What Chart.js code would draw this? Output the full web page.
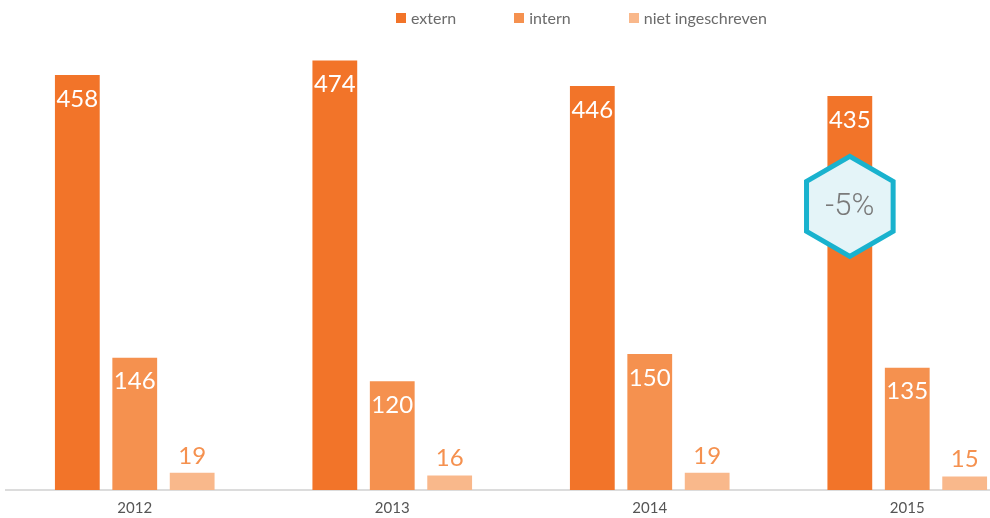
<!DOCTYPE html>
<html>
<head>
<meta charset="utf-8">
<script src="https://cdn.jsdelivr.net/npm/chart.js@4/dist/chart.umd.min.js"></script>
<style>
  html, body { margin: 0; padding: 0; background: #fff; overflow: hidden; }
  #wrap { position: relative; width: 1044px; height: 518px; }
  #legend { position: absolute; top: 8px; left: 396px; display: flex; font-family: Lato, sans-serif; font-size: 16px; color: #6b6b6b; }
  #legend span.item { display: flex; align-items: center; margin-right: 58px; }
  #legend span.sw { width: 10px; height: 10px; margin-right: 5px; display: inline-block; }
</style>
</head>
<body>
<div id="wrap">
  <div id="legend"></div>
  <canvas id="chart" width="1044" height="518"></canvas>
</div>
<script>
  // data
  const YEARS   = ['2012', '2013', '2014', '2015'];
  const EXTERN  = [458, 474, 446, 435];
  const INTERN  = [146, 120, 150, 135];
  const NIET    = [19, 16, 19, 15];
  const SERIES  = ['extern', 'intern', 'niet ingeschreven'];
  const BADGE   = { text: '-5%', year: 3, value: 313 };

  const ORANGE      = '#F27429';
  const ORANGE_MID  = '#F5914F';
  const ORANGE_SOFT = '#F9B88B';
  const COLORS = [ORANGE, ORANGE_MID, ORANGE_SOFT];

  // html legend
  const leg = document.getElementById('legend');
  SERIES.forEach((s, i) => {
    const it = document.createElement('span');
    it.className = 'item';
    it.innerHTML = '<span class="sw" style="background:' + COLORS[i] + '"></span>' + s;
    leg.appendChild(it);
  });

  // value labels on the bars
  const barLabels = {
    id: 'barLabels',
    afterDatasetsDraw(chart) {
      const ctx = chart.ctx;
      ctx.save();
      ctx.font = "24px Lato, sans-serif";
      ctx.textAlign = 'center';
      ctx.textBaseline = 'middle';
      chart.data.datasets.forEach((ds, di) => {
        chart.getDatasetMeta(di).data.forEach((bar, i) => {
          const v = ds.data[i];
          if (di < 2) {
            ctx.fillStyle = '#fff';
            ctx.fillText(v, bar.x, bar.y + 24);
          } else {
            ctx.fillStyle = ORANGE_MID;
            ctx.fillText(v, bar.x, bar.y - 17);
          }
        });
      });
      ctx.restore();
    }
  };

  // hexagon badge on the 2015 extern bar
  const badge = {
    id: 'badge',
    afterDatasetsDraw(chart) {
      const ctx = chart.ctx;
      const bar = chart.getDatasetMeta(0).data[BADGE.year];
      const cx = bar.x;
      const cy = chart.scales.y.getPixelForValue(BADGE.value);
      const r = 50;
      ctx.save();
      ctx.beginPath();
      for (let k = 0; k < 6; k++) {
        const a = Math.PI / 2 + k * Math.PI / 3;
        const px = cx + r * Math.cos(a);
        const py = cy - r * Math.sin(a);
        if (k === 0) ctx.moveTo(px, py); else ctx.lineTo(px, py);
      }
      ctx.closePath();
      ctx.fillStyle = '#E4F4F8';
      ctx.fill();
      ctx.lineWidth = 5;
      ctx.lineJoin = 'miter';
      ctx.strokeStyle = '#19B2CE';
      ctx.stroke();
      ctx.fillStyle = '#7a7a7a';
      ctx.font = "300 31px Roboto, sans-serif";
      ctx.textAlign = 'center';
      ctx.textBaseline = 'middle';
      ctx.fillText(BADGE.text, cx, cy + 1);
      ctx.restore();
    }
  };

  new Chart(document.getElementById('chart'), {
    type: 'bar',
    data: {
      labels: YEARS,
      datasets: [
        { label: SERIES[0], data: EXTERN, backgroundColor: ORANGE },
        { label: SERIES[1], data: INTERN, backgroundColor: ORANGE_MID },
        { label: SERIES[2], data: NIET,   backgroundColor: ORANGE_SOFT },
      ],
    },
    options: {
      responsive: false,
      animation: false,
      events: [],
      categoryPercentage: 0.669,
      barPercentage: 0.78,
      layout: { padding: { left: 6, right: 8, top: 37, bottom: 0 } },
      plugins: { legend: { display: false }, tooltip: { enabled: false } },
      scales: {
        x: {
          grid: { display: false },
          border: { display: true, color: '#DCDCDC', width: 2 },
          ticks: { color: '#555', font: { family: 'Lato, sans-serif', size: 15, lineHeight: 1.0 }, padding: 2.5 },
        },
        y: {
          display: false,
          min: 0,
          max: 500,
        },
      },
    },
    plugins: [barLabels, badge],
  });
</script>
</body>
</html>
